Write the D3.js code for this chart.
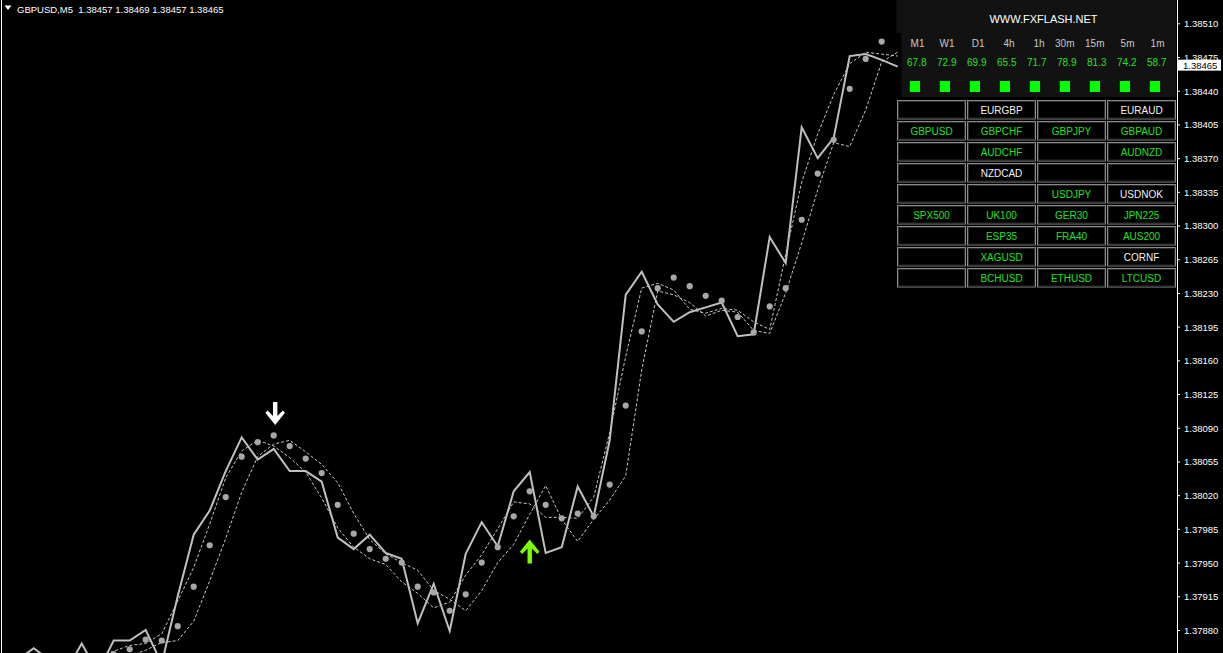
<!DOCTYPE html>
<html>
<head>
<meta charset="utf-8">
<script src="https://cdn.jsdelivr.net/npm/d3@7"></script>
<style>
  html, body { margin: 0; padding: 0; background: #000; }
  svg { display: block; }
  text { font-family: "Liberation Sans", Arial, sans-serif; }
</style>
</head>
<body>
<svg id="chart" width="1223" height="653"></svg>
<script>
// ---------------- DATA ----------------
const symbolTitle = "GBPUSD,M5";
const ohlcTitle = ["1.38457", "1.38469", "1.38457", "1.38465"];
const lastPrice = 1.38465;

const closes = [
  1.37847,1.37849,1.37861,1.37849,1.37836,1.37866,1.37836,1.37869,1.37869,1.37880,
  1.37845,1.37915,1.37979,1.38004,1.38045,1.38080,1.38057,1.38068,1.38045,1.38045,
  1.38034,1.37976,1.37964,1.37979,1.37960,1.37954,1.37887,1.37928,1.37879,1.37959,
  1.37992,1.37967,1.38024,1.38044,1.37960,1.37966,1.38029,1.37998,1.38077,1.38228,
  1.38252,1.38218,1.38200,1.38210,1.38215,1.38220,1.38185,1.38187,1.38288,1.38261,
  1.38402,1.38370,1.38391,1.38476,1.38478,1.38472,1.38465
];
const dots = [
  1.37848,1.37845,1.37846,1.37848,1.37845,1.37847,1.37850,1.37855,1.37860,1.37870,
  1.37869,1.37884,1.37925,1.37968,1.38018,1.38060,1.38075,1.38082,1.38071,1.38058,
  1.38043,1.38010,1.37980,1.37964,1.37954,1.37950,1.37925,1.37919,1.37900,1.37917,
  1.37950,1.37966,1.37998,1.38024,1.38010,1.37996,1.38001,1.37998,1.38031,1.38113,
  1.38190,1.38235,1.38246,1.38237,1.38227,1.38222,1.38205,1.38189,1.38216,1.38235,
  1.38306,1.38354,1.38389,1.38442,1.38473,1.38491,null
];
const upperBand = [
  1.37850,1.37848,1.37849,1.37850,1.37848,1.37850,1.37853,1.37858,1.37864,1.37866,
  1.37876,1.37910,1.37945,1.37990,1.38038,1.38066,1.38077,1.38071,1.38059,1.38044,
  1.38017,1.37986,1.37966,1.37954,1.37948,1.37930,1.37918,1.37903,1.37909,1.37937,
  1.37958,1.37985,1.38013,1.38011,1.37997,1.37997,1.37996,1.38018,1.38085,1.38164,
  1.38235,1.38240,1.38233,1.38213,1.38209,1.38214,1.38212,1.38200,1.38192,1.38270,
  1.38345,1.38395,1.38436,1.38468,1.38480,1.38478,1.38476
];
const lowerBand = [
  1.37842,1.37844,1.37843,1.37845,1.37844,1.37843,1.37846,1.37849,1.37853,1.37859,
  1.37867,1.37869,1.37889,1.37931,1.37975,1.38023,1.38060,1.38073,1.38077,1.38065,
  1.38052,1.38033,1.38001,1.37974,1.37959,1.37950,1.37942,1.37921,1.37912,1.37900,
  1.37921,1.37950,1.37969,1.38000,1.38030,1.37995,1.37972,1.37995,1.38015,1.38040,
  1.38150,1.38232,1.38228,1.38220,1.38206,1.38212,1.38210,1.38191,1.38188,1.38230,
  1.38282,1.38337,1.38386,1.38382,1.38420,1.38470,1.38480
];
const sellBars = [17];      const sellPrices = [1.38093];
const buyBars = [33];       const buyPrices = [1.37974];

const yTickLabels = ["1.38510","1.38475","1.38440","1.38405","1.38370","1.38335","1.38300",
  "1.38265","1.38230","1.38195","1.38160","1.38125","1.38090","1.38055","1.38020",
  "1.37985","1.37950","1.37915","1.37880"];

const siteTitle = "WWW.FXFLASH.NET";
const tfLabels = ["M1","W1","D1","4h","1h","30m","15m","5m","1m"];
const tfValues = ["67.8","72.9","69.9","65.5","71.7","78.9","81.3","74.2","58.7"];
const gridSymbols = [
  "", "EURGBP", "", "EURAUD",
  "GBPUSD", "GBPCHF", "GBPJPY", "GBPAUD",
  "", "AUDCHF", "", "AUDNZD",
  "", "NZDCAD", "", "",
  "", "", "USDJPY", "USDNOK",
  "SPX500", "UK100", "GER30", "JPN225",
  "", "ESP35", "FRA40", "AUS200",
  "", "XAGUSD", "", "CORNF",
  "", "BCHUSD", "ETHUSD", "LTCUSD"
];
const gridState = [
  "", "w", "", "w",
  "g", "g", "g", "g",
  "", "g", "", "g",
  "", "w", "", "",
  "", "", "g", "w",
  "g", "g", "g", "g",
  "", "g", "g", "g",
  "", "g", "", "w",
  "", "g", "g", "g"
];

// ---------------- DRAW ----------------
const W = 1223, H = 653;
const plotRight = 1177;
const svg = d3.select("#chart");
svg.append("rect").attr("width", W).attr("height", H).attr("fill", "#000");

const x = d3.scaleLinear().domain([0, closes.length - 1]).range([1.7, 1.7 + 16 * (closes.length - 1)]);
const y = d3.scaleLinear().domain([1.37880, 1.38510]).range([630, 23.3]);

svg.append("clipPath").attr("id", "plotClip")
  .append("rect").attr("x", 2).attr("y", 0).attr("width", plotRight - 2).attr("height", H);

const plot = svg.append("g").attr("clip-path", "url(#plotClip)");

const lineGen = d3.line()
  .defined(d => d != null)
  .x((d, i) => x(i)).y(d => y(d));

plot.append("path").datum(upperBand).attr("d", lineGen)
  .attr("fill", "none").attr("stroke", "#c8c8c8").attr("stroke-width", 1).attr("stroke-dasharray", "3,2");
plot.append("path").datum(lowerBand).attr("d", lineGen)
  .attr("fill", "none").attr("stroke", "#c8c8c8").attr("stroke-width", 1).attr("stroke-dasharray", "3,2");
plot.append("path").datum(closes).attr("d", lineGen)
  .attr("fill", "none").attr("stroke", "#c0c0c0").attr("stroke-width", 2).attr("stroke-linejoin", "miter");

plot.selectAll("circle.dot")
  .data(dots.map((v, i) => ({ v, i })).filter(d => d.v != null))
  .join("circle").attr("class", "dot")
  .attr("cx", d => x(d.i)).attr("cy", d => y(d.v)).attr("r", 3.1)
  .attr("fill", "#a8a8a8");

// arrows
function downArrow(cx, tipY) {
  const t = tipY - 23;
  return `M${cx-2.2},${t} L${cx+2.2},${t} L${cx+2.2},${t+14} L${cx+7.6},${t+8.6} L${cx+9.8},${t+10.8} L${cx},${t+23} L${cx-9.8},${t+10.8} L${cx-7.6},${t+8.6} L${cx-2.2},${t+14} Z`;
}
function upArrow(cx, tipY) {
  const t = tipY;
  return `M${cx-2.2},${t+24} L${cx+2.2},${t+24} L${cx+2.2},${t+9} L${cx+7.6},${t+14.4} L${cx+9.8},${t+12.2} L${cx},${t} L${cx-9.8},${t+12.2} L${cx-7.6},${t+14.4} L${cx-2.2},${t+9} Z`;
}
plot.selectAll("path.sell").data(sellBars).join("path").attr("class", "sell")
  .attr("d", (b, i) => downArrow(x(b) + 1.5, y(sellPrices[i]))).attr("fill", "#ffffff");
plot.selectAll("path.buy").data(buyBars).join("path").attr("class", "buy")
  .attr("d", (b, i) => upArrow(x(b), y(buyPrices[i]))).attr("fill", "#7cfc00");

// borders
svg.append("line").attr("x1", 1.5).attr("x2", 1.5).attr("y1", 0).attr("y2", H)
  .attr("stroke", "#ffffff").attr("stroke-width", 1);

// right axis
const axisG = svg.append("g").attr("transform", `translate(${plotRight},0)`);
const axis = d3.axisRight(y).tickValues(yTickLabels.map(Number))
  .tickFormat(d => yTickLabels.find(s => Math.abs(Number(s) - d) < 1e-9))
  .tickSize(3).tickPadding(4);
axisG.call(axis);
axisG.select(".domain").remove();
axisG.append("line").attr("x1", 0.5).attr("x2", 0.5).attr("y1", 0).attr("y2", H)
  .attr("stroke", "#ffffff");
axisG.selectAll(".tick line").attr("stroke", "#ffffff").attr("x1", 0.5);
axisG.selectAll(".tick text").attr("fill", "#ffffff")
  .style("font-family", '"Liberation Sans", Arial, sans-serif')
  .style("font-size", "9.5px").attr("dy", "0.36em");

// current price label
const cy = y(lastPrice) - 1.5;
axisG.append("rect").attr("x", 1).attr("y", cy - 5.5).attr("width", 43).attr("height", 11).attr("fill", "#ffffff");
axisG.append("text").attr("x", 6).attr("y", cy).attr("dy", "0.36em")
  .attr("fill", "#000").style("font-size", "9.5px").text(d3.format(".5f")(lastPrice));

// title
svg.append("path").attr("d", "M4.5,5.5 L11.5,5.5 L8,10 Z").attr("fill", "#ffffff");
svg.append("text").attr("x", 17).attr("y", 12.5).attr("fill", "#ffffff")
  .style("font-size", "9.5px").style("white-space", "pre")
  .text(symbolTitle + "  " + ohlcTitle.join(" "));

// info panel
const panel = svg.append("g");
panel.append("path")
  .attr("d", "M896.5,0 L1176,0 L1176,97 L901.5,97 L901.5,33 L896.5,33 Z")
  .attr("fill", "#121212");
panel.append("text").attr("x", 1043.5).attr("y", 23).attr("text-anchor", "middle")
  .attr("fill", "#ffffff").style("font-size", "11px").text(siteTitle);
panel.selectAll("text.tf").data(tfLabels).join("text").attr("class", "tf")
  .attr("x", (d, i) => 924.5 + 30 * i).attr("y", 46.5).attr("text-anchor", "end")
  .attr("fill", "#c8c8c8").style("font-size", "10px").text(d => d);
panel.selectAll("text.tv").data(tfValues).join("text").attr("class", "tv")
  .attr("x", (d, i) => 926.5 + 30 * i).attr("y", 66).attr("text-anchor", "end")
  .attr("fill", "#22e022").style("font-size", "10px").text(d => d);
panel.selectAll("rect.sq").data(tfValues).join("rect").attr("class", "sq")
  .attr("x", (d, i) => 909.8 + 30 * i).attr("y", 81).attr("width", 10.2).attr("height", 11)
  .attr("fill", "#00ff00");

// symbol grid
const cells = gridSymbols.map((s, i) => ({ s, st: gridState[i], r: Math.floor(i / 4), c: i % 4 }));
const cellG = svg.append("g").selectAll("g").data(cells).join("g")
  .attr("transform", d => `translate(${897 + 70 * d.c},${100 + 21 * d.r})`);
cellG.append("rect").attr("x", 0.5).attr("y", 0.5).attr("width", 68).attr("height", 18.5)
  .attr("fill", "#000").attr("stroke", "#8a8a8a").attr("stroke-width", 1);
cellG.append("rect").attr("x", 1.5).attr("y", 1.5).attr("width", 66).attr("height", 16.5)
  .attr("fill", "none").attr("stroke", "#2a2a2a").attr("stroke-width", 1);
cellG.append("text").attr("x", 34.5).attr("y", 14).attr("text-anchor", "middle")
  .attr("fill", d => d.st === "g" ? "#22e022" : "#f2f2f2")
  .style("font-size", "10px").text(d => d.s);
</script>
</body>
</html>
